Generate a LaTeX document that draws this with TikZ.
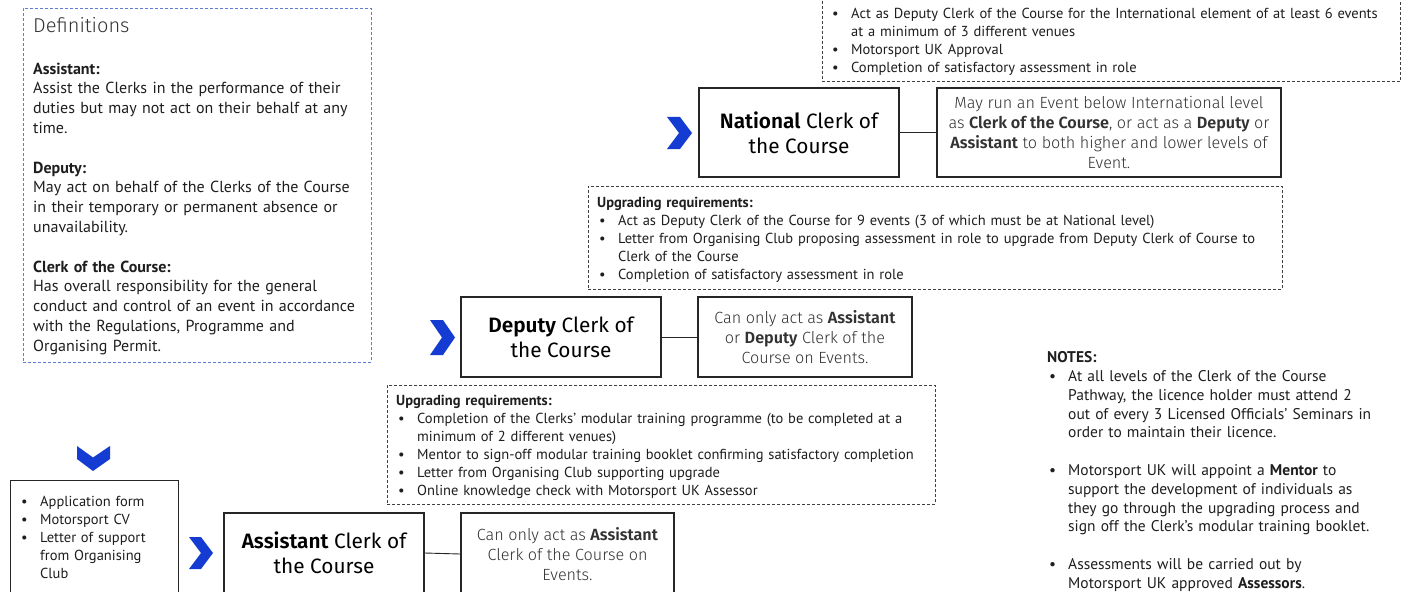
\documentclass[tikz,border=0pt]{standalone}
\usepackage{fontspec}
\setmainfont{PT Sans}
\newfontfamily\descfont{FiraSans-Light}[BoldFont=FiraSans-SemiBold]
\newfontfamily\titlefont{Fira Sans}[BoldFont=FiraSans-SemiBold]
\definecolor{mblue}{RGB}{20,60,210}
\definecolor{defblue}{RGB}{95,125,215}
\definecolor{txt}{RGB}{30,30,30}
\definecolor{desctxt}{RGB}{50,50,50}
\newcommand{\bi}[1]{{\hangindent=21pt\hangafter=1\noindent\makebox[21pt][l]{\hspace{2pt}\textbullet}#1\par}}
\tikzset{
  reqbox/.style={draw=black!75, line width=0.8pt, dash pattern=on 3pt off 2pt, inner sep=0pt},
  defbox/.style={draw=defblue, line width=0.9pt, dash pattern=on 3pt off 2pt, inner sep=0pt},
  titlebox/.style={draw=black!85, line width=1.2pt, align=center, inner sep=0pt,
     font=\titlefont\fontsize{20.8}{25}\selectfont, text=black},
  descbox/.style={draw=black!85, line width=1.2pt, align=center, inner sep=0pt,
     font=\descfont\fontsize{16.2}{19.7}\selectfont, text=desctxt},
  plainbox/.style={draw=black!85, line width=1.2pt, inner sep=0pt},
  reqtext/.style={anchor=north west, inner sep=0pt, text=txt,
     font=\fontsize{14.5}{18}\selectfont},
  link/.style={draw=black!85, line width=0.9pt},
  chev/.style={fill=mblue}
}
\begin{document}
\begin{tikzpicture}[x=1pt,y=-1pt]
\useasboundingbox (0,0) rectangle (1420,591);
\clip (0,0) rectangle (1420,591);
\fill[white] (0,0) rectangle (1420,591);

% Definitions
\node[defbox, anchor=north west, minimum width=348pt, minimum height=354pt] (defs) at (23,8) {};
\node[anchor=north west, inner sep=0pt, text=black!80] (deftitle) at (33,17.5)
  {\descfont\fontsize{20}{24}\selectfont Definitions};
\node[anchor=north west, inner sep=0pt, align=left, text width=345pt, text=txt,
  font=\fontsize{16}{19.8}\selectfont] (deftext) at (33,62.5) {%
\textbf{Assistant:}\\
Assist the Clerks in the performance of their\\
duties but may not act on their behalf at any\\
time.\par\vspace{19.8pt}
\textbf{Deputy:}\\
May act on behalf of the Clerks of the Course\\
in their temporary or permanent absence or\\
unavailability.\par\vspace{19.8pt}
\textbf{Clerk of the Course:}\\
Has overall responsibility for the general\\
conduct and control of an event in accordance\\
with the Regulations, Programme and\\
Organising Permit.};

% International requirements (cut at top)
\node[reqbox, anchor=south west, minimum width=578pt, minimum height=130pt] (intreq) at (822,82) {};
\node[reqtext, text width=600pt] (intreqtext) at (830,8.2) {%
\bi{Act as Deputy Clerk of the Course for the International element of at least 6 events\newline at a minimum of 3 different venues}
\bi{Motorsport UK Approval}
\bi{Completion of satisfactory assessment in role}};

% National
\fill[chev] (667,117) -- (680,117) -- (692,133) -- (680,149) -- (667,149) -- (679,133) -- cycle;
\node[titlebox, minimum width=200pt, minimum height=89pt] (nat) at (799,132.5)
  {\textbf{National} Clerk of\\the Course};
\node[descbox, minimum width=344pt, minimum height=89pt] (natd) at (1109,132.5)
  {May run an Event below International level\\
   as \textbf{Clerk of the Course}, or act as a \textbf{Deputy} or\\
   \textbf{Assistant} to both higher and lower levels of\\
   Event.};
\draw[link] (nat.east) -- (natd.west);

\node[reqbox, anchor=north west, minimum width=694pt, minimum height=103pt] (natreq) at (588,186) {};
\node[reqtext, text width=700pt] (natreqtext) at (597,197) {%
\noindent\textbf{Upgrading requirements:}\par
\bi{Act as Deputy Clerk of the Course for 9 events (3 of which must be at National level)}
\bi{Letter from Organising Club proposing assessment in role to upgrade from Deputy Clerk of Course to\newline Clerk of the Course}
\bi{Completion of satisfactory assessment in role}};

% Deputy
\fill[chev] (430,320) -- (443,320) -- (455,337.5) -- (443,355) -- (430,355) -- (442,337.5) -- cycle;
\node[titlebox, minimum width=200pt, minimum height=80pt] (dep) at (561,337)
  {\textbf{Deputy} Clerk of\\the Course};
\node[descbox, minimum width=214pt, minimum height=80pt] (depd) at (805,337)
  {Can only act as \textbf{Assistant}\\
   or \textbf{Deputy} Clerk of the\\
   Course on Events.};
\draw[link] (dep.east) -- (depd.west);

\node[reqbox, anchor=north west, minimum width=548pt, minimum height=119pt] (depreq) at (387,385) {};
\node[reqtext, text width=560pt] (depreqtext) at (396,395) {%
\noindent\textbf{Upgrading requirements:}\par
\bi{Completion of the Clerks' modular training programme (to be completed at a\newline minimum of 2 different venues)}
\bi{Mentor to sign-off modular training booklet confirming satisfactory completion}
\bi{Letter from Organising Club supporting upgrade}
\bi{Online knowledge check with Motorsport UK Assessor}};

% Entry
\fill[chev] (77,446) -- (93,457.5) -- (110,446) -- (110,459) -- (93,471) -- (77,459) -- cycle;
\node[plainbox, anchor=north west, minimum width=168pt, minimum height=130pt] (app) at (10,480) {};
\node[reqtext, text width=160pt] (apptext) at (19,496) {%
\bi{Application form}
\bi{Motorsport CV}
\bi{Letter of support\newline from Organising\newline Club}};

% Assistant
\fill[chev] (189,537) -- (201,537) -- (213,553) -- (201,569) -- (189,569) -- (201,553) -- cycle;
\node[titlebox, minimum width=200pt, minimum height=80pt] (ast) at (324,553)
  {\textbf{Assistant} Clerk of\\the Course};
\node[descbox, minimum width=213pt, minimum height=82pt] (astd) at (567.5,554)
  {Can only act as \textbf{Assistant}\\
   Clerk of the Course on\\
   Events.};
\draw[link] (ast.east) -- (astd.west);

% Notes
\node[anchor=north west, inner sep=0pt, text width=370pt, text=txt,
  font=\fontsize{15.5}{18.8}\selectfont] (notes) at (1047,351.5) {%
\noindent\textbf{NOTES:}\par
\bi{At all levels of the Clerk of the Course\newline Pathway, the licence holder must attend 2\newline out of every 3 Licensed Officials' Seminars in\newline order to maintain their licence.}\vspace{18.8pt}
\bi{Motorsport UK will appoint a \textbf{Mentor} to\newline support the development of individuals as\newline they go through the upgrading process and\newline sign off the Clerk's modular training booklet.}\vspace{18.8pt}
\bi{Assessments will be carried out by\newline Motorsport UK approved \textbf{Assessors}.}};
\end{tikzpicture}
\end{document}
